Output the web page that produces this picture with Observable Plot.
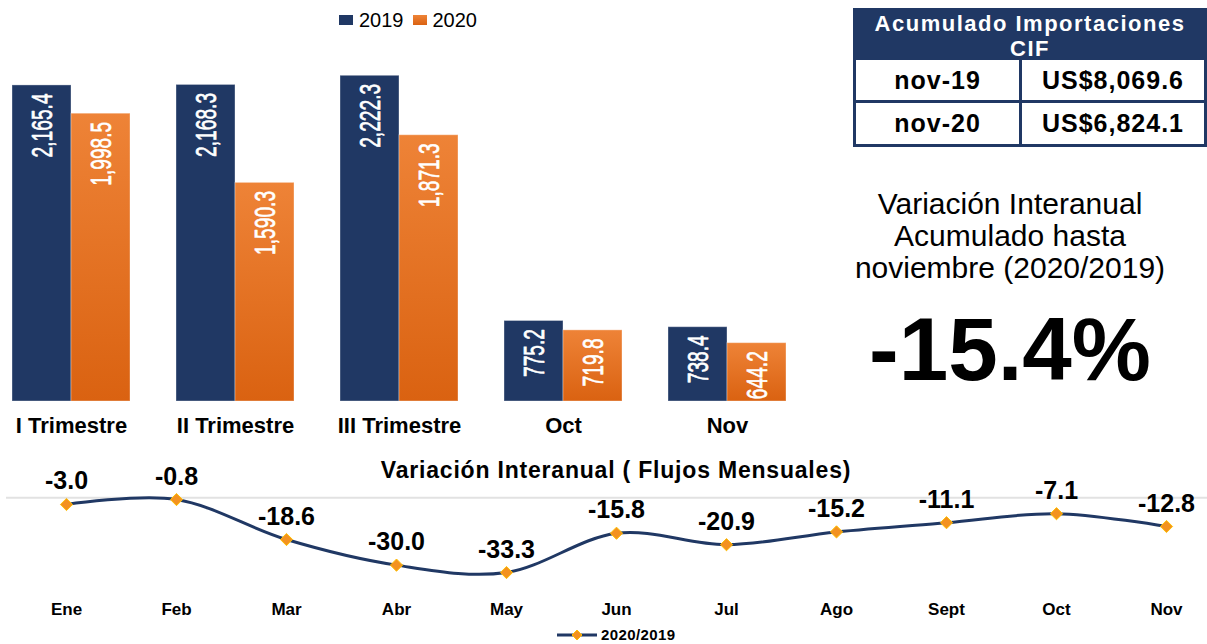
<!DOCTYPE html>
<html>
<head>
<meta charset="utf-8">
<script src="https://cdn.jsdelivr.net/npm/d3@7"></script>
<script src="https://cdn.jsdelivr.net/npm/@observablehq/plot@0.6"></script>
<style>
  html, body { margin: 0; padding: 0; background: #fff; }
  body { font-family: "Liberation Sans", Arial, sans-serif; color: #000; }
  #root { position: relative; width: 1207px; height: 644px; overflow: hidden; }
  .abs { position: absolute; }
  #legendTop { left: 339px; top: 9px; display: flex; align-items: center; font-size: 20px; line-height: 22px; }
  #legendTop .sw { width: 14px; height: 10px; margin-right: 6px; }
  #legendTop .it { display: flex; align-items: center; margin-right: 9px; }
  #table { left: 853px; top: 8px; width: 354px; height: 139px; border: 3px solid #203864; box-sizing: border-box; background: #fff; }
  #table .hd { height: 49px; background: #203864; color: #fff; font-weight: bold; font-size: 22px; letter-spacing: 1.5px; line-height: 25px; display: flex; flex-direction: column; justify-content: center; align-items: center; }
  #table .row { display: flex; height: 40px; font-weight: bold; font-size: 25px; letter-spacing: 1px; }
  #table .row + .row { border-top: 3px solid #203864; height: 41px; }
  #table .c1 { width: 163px; border-right: 3px solid #203864; display: flex; align-items: center; justify-content: center; }
  #table .c2 { flex: 1; display: flex; align-items: center; justify-content: center; }
  #bigtext { left: 810px; top: 188px; width: 400px; text-align: center; font-size: 30px; line-height: 32px; }
  #bignum { left: 760px; top: 305px; width: 500px; text-align: center; font-size: 89px; line-height: 89px; font-weight: bold; }
  #lineTitle { left: 266px; top: 457px; width: 700px; text-align: center; font-size: 23px; line-height: 26px; font-weight: bold; letter-spacing: 0.8px; }
  #legendBottom { left: 556px; top: 627px; display: flex; align-items: center; font-size: 15px; font-weight: bold; line-height: 16px; letter-spacing: 0.4px; }
</style>
</head>
<body>
<div id="root">
  <div id="barChart" class="abs" style="left:0;top:0"></div>
  <div id="lineChart" class="abs" style="left:0;top:440px"></div>
  <div id="legendTop" class="abs"></div>
  <div id="table" class="abs"></div>
  <div id="bigtext" class="abs"></div>
  <div id="bignum" class="abs"></div>
  <div id="lineTitle" class="abs"></div>
  <div id="legendBottom" class="abs"></div>
</div>
<script>
// ---------------- DATA ----------------
const categories = ["I Trimestre", "II Trimestre", "III Trimestre", "Oct", "Nov"];
const years = ["2019", "2020"];
const values2019 = [2165.4, 2168.3, 2222.3, 775.2, 738.4];
const values2020 = [1998.5, 1590.3, 1871.3, 719.8, 644.2];

const months = ["Ene", "Feb", "Mar", "Abr", "May", "Jun", "Jul", "Ago", "Sept", "Oct", "Nov"];
const variation = [-3.0, -0.8, -18.6, -30.0, -33.3, -15.8, -20.9, -15.2, -11.1, -7.1, -12.8];
const lineSeriesName = "2020/2019";

const tableTitle = ["Acumulado Importaciones", "CIF"];
const tableRowLabels = ["nov-19", "nov-20"];
const tableRowValues = ["US$8,069.6", "US$6,824.1"];

const summaryLines = ["Variación Interanual", "Acumulado hasta", "noviembre (2020/2019)"];
const summaryValue = "-15.4%";
const lineTitleText = "Variación Interanual ( Flujos Mensuales)";

// ---------------- STYLE ----------------
const NAVY = "#203864";
const ORANGE_TOP = "#EE8337";
const ORANGE_BOTTOM = "#DA6211";
const MARKER = "#F39220";
const BASE = 300; // bar axis origin (axis does not start at zero)

// ---------------- BAR CHART ----------------
const barData = categories.flatMap((c, i) => [
  {cat: c, year: years[0], value: values2019[i]},
  {cat: c, year: years[1], value: values2020[i]}
]);
const fmt = d3.format(",.1f");

const bars = Plot.plot({
  width: 820,
  height: 440,
  marginLeft: 11,
  marginRight: 33,
  marginTop: 10,
  marginBottom: 39,
  style: {fontFamily: "'Liberation Sans', Arial, sans-serif", color: "#000", background: "transparent"},
  fx: {domain: categories, paddingInner: 0.283, paddingOuter: 0, label: null},
  x: {domain: years, padding: 0, axis: null},
  y: {domain: [BASE, 2607.6], axis: null},
  color: {domain: years, range: [NAVY, "url(#orangeGrad)"]},
  marks: [
    Plot.barY(barData, {fx: "cat", x: "year", y1: BASE, y2: "value", fill: "year",
      stroke: "#ffffff", strokeOpacity: 0.35, strokeWidth: 1}),
    Plot.text(barData, {fx: "cat", x: "year", y: "value", text: d => fmt(d.value),
      rotate: -90, textAnchor: "end", dy: 8, fill: "white", stroke: "white", strokeWidth: 0.7, fontSize: 30}),
    Plot.axisFx({anchor: "bottom", tickSize: 0, tickPadding: 16, fontSize: 22, fontWeight: "bold", label: null})
  ]
});
const barSvg = d3.select(bars);
const grad = barSvg.insert("defs", ":first-child")
  .append("linearGradient").attr("id", "orangeGrad")
  .attr("x1", 0).attr("y1", 0).attr("x2", 0).attr("y2", 1);
grad.append("stop").attr("offset", 0).attr("stop-color", ORANGE_TOP);
grad.append("stop").attr("offset", 1).attr("stop-color", ORANGE_BOTTOM);
// condense the rotated value labels
barSvg.selectAll('g[aria-label="text"] text').each(function() {
  const t = d3.select(this);
  t.attr("transform", (t.attr("transform") || "") + " scale(0.64,1)");
});
document.getElementById("barChart").appendChild(bars);

// ---------------- LINE CHART ----------------
const lineData = months.map((m, i) => ({month: m, value: variation[i]}));
const lineChart = Plot.plot({
  width: 1207,
  height: 204,
  marginLeft: 62,
  marginRight: 37,
  marginTop: 0,
  marginBottom: 54,
  style: {fontFamily: "'Liberation Sans', Arial, sans-serif", color: "#000", background: "transparent"},
  x: {type: "point", domain: months, padding: 0, axis: null},
  y: {domain: [-41.3, 25.5], axis: null},
  marks: [
    Plot.ruleY([0], {stroke: "#e2e2e2", strokeWidth: 2, insetLeft: -56, insetRight: -37}),
    Plot.axisX({tickSize: 0, tickPadding: 12, fontSize: 17, fontWeight: "bold", label: null}),
    Plot.lineY(lineData, {x: "month", y: "value", curve: "cardinal", stroke: NAVY, strokeWidth: 3}),
    Plot.dot(lineData, {x: "month", y: "value", symbol: "diamond2", r: 5.5, fill: MARKER, stroke: "#FFC000", strokeWidth: 1}),
    Plot.text(lineData, {x: "month", y: "value", text: d => d.value.toFixed(1), dy: -23, fontSize: 25, fontWeight: "bold"})
  ]
});
document.getElementById("lineChart").appendChild(lineChart);

// ---------------- HTML PARTS ----------------
const lt = document.getElementById("legendTop");
[[years[0], NAVY], [years[1], "linear-gradient(" + ORANGE_TOP + "," + ORANGE_BOTTOM + ")"]].forEach(([y, c]) => {
  const it = document.createElement("div");
  it.className = "it";
  it.innerHTML = `<div class="sw" style="background:${c}"></div><span>${y}</span>`;
  lt.appendChild(it);
});

const tb = document.getElementById("table");
tb.innerHTML = `<div class="hd"><div>${tableTitle[0]}</div><div>${tableTitle[1]}</div></div>` +
  tableRowLabels.map((l, i) => `<div class="row"><div class="c1">${l}</div><div class="c2">${tableRowValues[i]}</div></div>`).join("");

document.getElementById("bigtext").innerHTML = summaryLines.map(s => `<div>${s}</div>`).join("");
document.getElementById("bignum").textContent = summaryValue;
document.getElementById("lineTitle").textContent = lineTitleText;

document.getElementById("legendBottom").innerHTML =
  `<svg width="42" height="12" style="margin-right:3px"><line x1="1" y1="6" x2="41" y2="6" stroke="${NAVY}" stroke-width="3"/>` +
  `<path d="M21,1 L26,6 L21,11 L16,6 Z" fill="${MARKER}" stroke="#FFC000" stroke-width="1"/></svg><span>${lineSeriesName}</span>`;
</script>
</body>
</html>
